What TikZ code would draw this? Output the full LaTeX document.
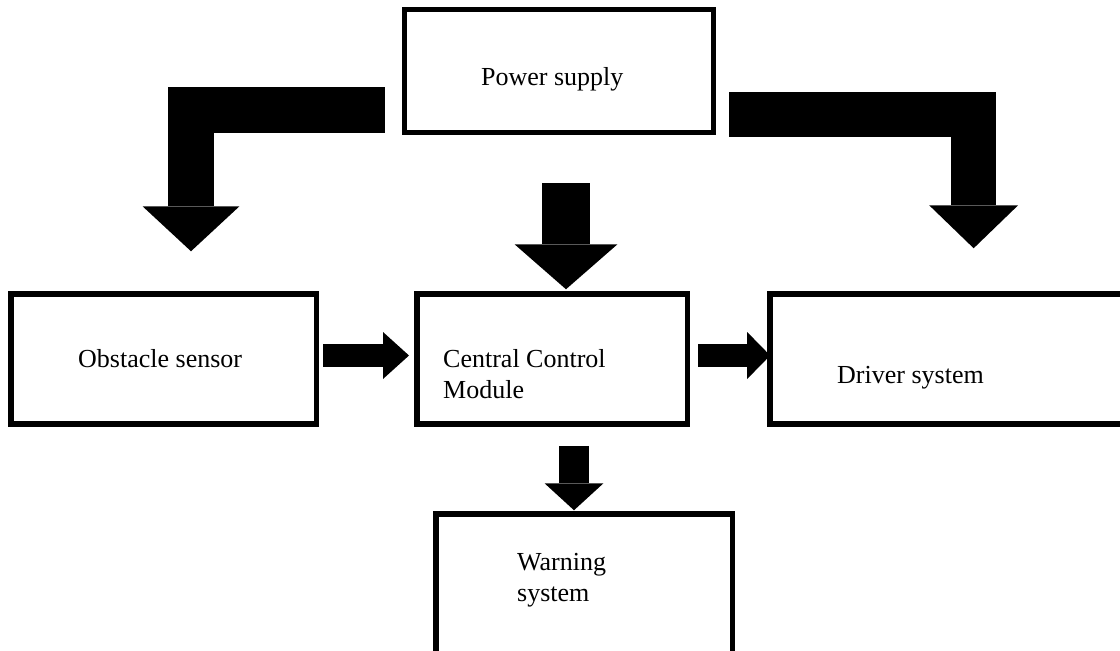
\documentclass[tikz,border=0pt]{standalone}
\usepackage{fontspec}
\setmainfont{Liberation Serif}
\usetikzlibrary{arrows.meta,calc}
\begin{document}
\begin{tikzpicture}[x=1pt,y=-1pt,
  box/.style={draw=black,line width=5.5pt,rectangle,inner sep=0pt,fill=white},
  lbl/.style={anchor=base west,inner sep=0pt,font=\fontsize{26}{31}\selectfont},
  blockarrow/.style={draw=black,line join=miter,line cap=butt}
]
\useasboundingbox (0,0) rectangle (1120,651);
\clip (0,0) rectangle (1120,651);
\fill[white] (0,0) rectangle (1120,651);

% boxes
\node[box,minimum width=309pt,minimum height=123pt] (power) at (559,71) {};
\node[box,minimum width=305.5pt,minimum height=130pt] (obstacle) at (163.5,359) {};
\node[box,minimum width=270.5pt,minimum height=130pt] (central) at (552,359) {};
\node[box,minimum width=365pt,minimum height=130pt] (driver) at (952.4,359) {};
\node[box,minimum width=296.5pt,minimum height=150pt] (warning) at (584,589) {};

% labels
\node[lbl] (tpower) at (481,85) {Power supply};
\node[lbl] (tobst) at (78,367) {Obstacle sensor};
\node[lbl] (tcent1) at (443,367) {Central Control};
\node[lbl] (tcent2) at (443,398) {Module};
\node[lbl] (tdrv) at (837,383) {Driver system};
\node[lbl] (twarn1) at (517,570) {Warning};
\node[lbl] (twarn2) at (517,601) {system};

% block arrows
\draw[blockarrow,line width=46pt,-{Triangle[length=45pt,width=97pt,line width=0pt]}]
  ($(power.west)+(-17,38.5)$) -| ($(obstacle.north)+(27.5,-40)$);
\draw[blockarrow,line width=45pt,-{Triangle[length=43pt,width=89pt,line width=0pt]}]
  ($(power.east)+(13,43.5)$) -| ($(driver.north west)+(206.5,-43)$);
\draw[blockarrow,line width=48pt,-{Triangle[length=45pt,width=103pt,line width=0pt]}]
  ($(power.south)+(7,48)$) -- ($(central.north)+(14,-2)$);
\draw[blockarrow,line width=23pt,-{Triangle[length=26pt,width=47pt,line width=0pt]}]
  ($(obstacle.east)+(4,-3.5)$) -- ($(central.west)+(-5,-3.5)$);
\draw[blockarrow,line width=23pt,-{Triangle[length=23pt,width=47pt,line width=0pt]}]
  ($(central.east)+(8,-3.5)$) -- ($(driver.west)+(3,-3.5)$);
\draw[blockarrow,line width=30pt,-{Triangle[length=27pt,width=59pt,line width=0pt]}]
  ($(central.south)+(22,19)$) -- ($(warning.north)+(-10,-1)$);
\end{tikzpicture}
\end{document}
